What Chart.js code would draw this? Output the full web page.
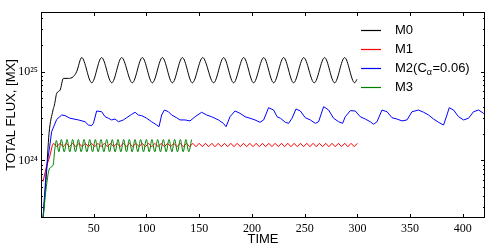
<!DOCTYPE html>
<html>
<head>
<meta charset="utf-8">
<script src="https://cdn.jsdelivr.net/npm/chart.js@4.4.0/dist/chart.umd.min.js"></script>
<style>
  html, body { margin: 0; padding: 0; background: #fff; }
  canvas { display: block; }
</style>
</head>
<body>
<canvas id="grafico" width="498" height="250"></canvas>
<script>
const UNIDAD = 1e24; // los valores de las series van en unidades de 1e24 Mx

const nombres = ['M0', 'M1', 'M2(Cα=0.06)', 'M3'];
const colores = ['#000000', '#ff0000', '#0000ff', '#008000'];

const ticksX = [50, 100, 150, 200, 250, 300, 350, 400];
const ticksYMayores = [1e24, 1e25];
const ticksYMenores = [3e23, 4e23, 5e23, 6e23, 7e23, 8e23, 9e23,
  2e24, 3e24, 4e24, 5e24, 6e24, 7e24, 8e24, 9e24, 2e25, 3e25, 4e25];

// M0
const m0T = [2, 5, 7.6, 11.4, 12.7, 14.9, 18.1, 21.2, 26, 30.7, 33.8,
  38.6, 48.1, 57.5, 67.1, 76.5, 86.6, 96.1, 105.6, 115.1, 124.6, 134.1, 143.5,
  153.3, 163.7, 173.2, 182.6, 192.2, 201.6, 211.2, 220.6, 230.1, 239.5, 249.1,
  259.1, 268.9, 278.4, 287.9, 297.4, 299.6];
const m0V = [0.23, 0.66, 2.0, 3.7, 4.2, 5.7, 6.2, 8.4, 8.4, 8.8, 10.0,
  14.4, 7.5, 14.4, 7.5, 14.4, 7.5, 14.4, 7.5, 14.4, 7.5, 14.4, 7.5,
  14.4, 7.5, 14.4, 7.5, 14.4, 7.5, 14.4, 7.5, 14.4, 7.5, 14.4,
  7.5, 14.4, 7.5, 14.4, 7.5, 8.2];

// M1
const m1T = [2, 5.1, 8.2, 10.8,
  12, 15, 18, 21, 24, 27, 30, 33, 36, 39, 42, 45, 48, 51, 54, 57, 60, 63, 66, 69,
  72, 75, 78, 81, 84, 87, 90, 93, 96, 99, 102, 105, 108, 111, 114, 117, 120, 123,
  126, 129, 132, 135, 138, 141, 144, 147, 150, 153, 156, 159, 162, 165, 168, 171,
  174, 177, 180, 183, 186, 189, 192, 195, 198, 201, 204, 207, 210, 213, 216, 219,
  222, 225, 228, 231, 234, 237, 240, 243, 246, 249, 252, 255, 258, 261, 264, 267,
  270, 273, 276, 279, 282, 285, 288, 291, 294, 297, 300];
const m1V = [0.58, 0.85, 1.10, 1.49,
  1.56, 1.43, 1.56, 1.43, 1.56, 1.43, 1.56, 1.43, 1.56, 1.43, 1.56, 1.43, 1.56, 1.43, 1.56, 1.43, 1.56, 1.43, 1.56, 1.43,
  1.56, 1.43, 1.56, 1.43, 1.56, 1.43, 1.56, 1.43, 1.56, 1.43, 1.56, 1.43, 1.56, 1.43, 1.56, 1.43, 1.56, 1.43,
  1.56, 1.43, 1.56, 1.43, 1.56, 1.43, 1.56, 1.43, 1.56, 1.43, 1.56, 1.43, 1.56, 1.43, 1.56, 1.43,
  1.56, 1.43, 1.56, 1.43, 1.56, 1.43, 1.56, 1.43, 1.56, 1.43, 1.56, 1.43, 1.56, 1.43, 1.56, 1.43,
  1.56, 1.43, 1.56, 1.43, 1.56, 1.43, 1.56, 1.43, 1.56, 1.43, 1.56, 1.43, 1.56, 1.43, 1.56, 1.43,
  1.56, 1.43, 1.56, 1.43, 1.56, 1.43, 1.56, 1.43, 1.56, 1.43, 1.56];

// M2 (C_alpha = 0.06)
const m2T = [2, 5, 8.2, 10.1, 14.9, 19.6, 22.8, 27.6, 35.5, 41.8, 44.9, 48.1, 49.7,
  52.8, 57.5, 60.8, 63.9, 67.0, 70.2, 73.4, 78.1, 81.2, 86.0, 89.2, 92.3, 95.5,
  100.2, 104.9, 109.7, 111.9, 114.4, 117.0, 120.8, 123.9, 128.6, 131.8, 136.6,
  141.3, 146.1, 152.3, 157.1, 161.8, 168.2, 172.9, 175.5, 179.2, 184.0, 188.7,
  193.5, 198.2, 202.9, 207.7, 211.1, 215.8, 220.6, 223.8, 227.0, 231.7, 234.8,
  238.0, 241.8, 245.9, 250.6, 255.4, 260.1, 263.2, 268.0, 272.7, 277.4, 282.2,
  286.0, 288.5, 293.3, 298.0, 302.7, 307.5, 312.2, 315.4, 318.6, 323.3, 328.1,
  332.8, 337.5, 342.3, 347.0, 351.8, 358.0, 362.8, 367.5, 372.2, 377.0, 381.7,
  384.9, 387.1, 391.2, 395.9, 400.7, 405.4, 410.1, 414.9, 419.6, 422];
const m2V = [0.23, 0.78, 1.43, 2.11, 2.9, 3.25, 3.20, 2.99, 2.86, 2.73, 2.51, 2.47, 2.62,
  3.61, 3.54, 3.11, 2.99, 2.86, 2.93, 2.73, 2.86, 3.03, 3.31, 3.49, 3.25, 3.20,
  2.99, 2.73, 2.51, 2.40, 3.25, 3.70, 3.54, 3.25, 3.03, 2.86, 2.86,
  2.79, 3.11, 3.49, 3.25, 3.11, 2.86, 2.62, 2.40, 3.11, 3.61, 3.40,
  3.11, 2.99, 2.86, 2.69, 2.86, 3.93, 3.70, 3.11, 2.99, 2.69, 2.62,
  2.99, 3.80, 3.61, 3.03, 2.86, 2.62, 2.73, 4.04, 3.70, 2.99, 2.73,
  2.62, 3.11, 3.64, 3.61, 3.11, 2.93, 2.73, 2.56, 2.73, 3.70, 3.54,
  3.03, 2.93, 2.79, 2.86, 3.54, 3.70, 3.49, 3.25, 2.93, 2.69, 2.51,
  3.25, 3.93, 3.70, 3.11, 2.86, 2.99, 3.54, 3.70, 3.40, 3.11];

// M3
const m3T = [2, 5.1, 8.2, 11.5, 13, 14.6, 16.9,
  19.3, 22.0, 24.7, 27.3, 30.0, 32.7, 35.4, 38.1, 40.8, 43.5, 46.2, 48.9, 51.5,
  54.2, 56.9, 59.6, 62.3, 65.0, 67.6, 70.3, 73.0, 75.7, 78.4, 81.1, 83.7, 86.4,
  89.1, 91.8, 94.5, 97.2, 99.9, 102.6, 105.2, 107.9, 110.6, 113.3, 116.0, 118.7,
  121.4, 124.1, 126.7, 129.4, 132.1, 134.8, 137.4, 140.1, 142.8];
const m3V = [0.22, 0.51, 0.82, 0.89, 1.31, 1.68, 1.25,
  1.72, 1.25, 1.72, 1.25, 1.72, 1.25, 1.72, 1.25, 1.72, 1.25, 1.72, 1.25, 1.72,
  1.25, 1.72, 1.25, 1.72, 1.25, 1.72, 1.25, 1.72, 1.25, 1.72, 1.25, 1.72, 1.25,
  1.72, 1.25, 1.72, 1.25, 1.72, 1.25, 1.72, 1.25, 1.72, 1.25, 1.72, 1.25,
  1.72, 1.25, 1.72, 1.25, 1.72, 1.25, 1.72, 1.25, 1.72];

function puntos(t, v) {
  return t.map((x, i) => ({ x: x, y: v[i] * UNIDAD }));
}

function serie(i, t, v, suave) {
  return {
    label: nombres[i],
    data: puntos(t, v),
    borderColor: colores[i],
    backgroundColor: colores[i],
    borderWidth: 1,
    pointRadius: 0,
    fill: false,
    cubicInterpolationMode: suave ? 'monotone' : 'default',
    tension: 0,
    order: 4 - i
  };
}

// marcas hacia adentro en los cuatro lados, estilo matplotlib
const marcasPlugin = {
  id: 'marcas',
  afterDatasetsDraw(chart) {
    const { ctx, chartArea: a, scales: { x, y } } = chart;
    ctx.save();
    ctx.strokeStyle = '#000';
    ctx.lineWidth = 1;
    ctx.beginPath();
    x.ticks.forEach((t) => {
      const px = Math.round(x.getPixelForValue(t.value)) + 0.5;
      ctx.moveTo(px, a.bottom); ctx.lineTo(px, a.bottom - 4);
      ctx.moveTo(px, a.top); ctx.lineTo(px, a.top + 4);
    });
    y.ticks.forEach((t) => {
      const py = Math.round(y.getPixelForValue(t.value)) + 0.5;
      const largo = ticksYMayores.includes(t.value) ? 4 : 2;
      ctx.moveTo(a.left, py); ctx.lineTo(a.left + largo, py);
      ctx.moveTo(a.right, py); ctx.lineTo(a.right - largo, py);
    });
    ctx.stroke();
    ctx.strokeRect(Math.round(a.left) + 0.5, Math.round(a.top) + 0.5,
      Math.round(a.right - a.left) - 1, Math.round(a.bottom - a.top) - 1);
    ctx.restore();
  }
};

// leyenda sin marco arriba a la derecha, con subindice para alfa
const leyendaPlugin = {
  id: 'leyenda',
  afterDraw(chart) {
    const ctx = chart.ctx;
    const fuente = '13px "Liberation Sans", Arial, sans-serif';
    const fuenteSub = '9px "Liberation Sans", Arial, sans-serif';
    ctx.save();
    ctx.textBaseline = 'middle';
    nombres.forEach((nombre, i) => {
      const y = 30.5 + i * 19;
      ctx.strokeStyle = colores[i];
      ctx.lineWidth = 1.2;
      ctx.beginPath();
      ctx.moveTo(361, y); ctx.lineTo(381, y);
      ctx.stroke();
      ctx.fillStyle = '#000';
      const partes = nombre.split('α');
      let x = 395;
      ctx.font = fuente;
      ctx.fillText(partes[0], x, y);
      x += ctx.measureText(partes[0]).width;
      if (partes.length > 1) {
        ctx.font = fuenteSub;
        ctx.fillText('α', x, y + 4);
        x += ctx.measureText('α').width + 0.5;
        ctx.font = fuente;
        ctx.fillText(partes[1], x, y);
      }
    });
    ctx.restore();
  }
};

new Chart(document.getElementById('grafico'), {
  type: 'line',
  data: {
    datasets: [
      serie(0, m0T, m0V, true),
      serie(1, m1T, m1V, false),
      serie(2, m2T, m2V, false),
      serie(3, m3T, m3V, true)
    ]
  },
  options: {
    responsive: false,
    devicePixelRatio: 1,
    animation: false,
    layout: { padding: { top: 12, right: 13, left: 0, bottom: 0 } },
    plugins: { legend: { display: false }, tooltip: { enabled: false } },
    scales: {
      x: {
        type: 'linear',
        min: 0,
        max: 421,
        grid: { display: false, drawTicks: false },
        border: { display: false },
        afterBuildTicks: (axis) => { axis.ticks = ticksX.map((v) => ({ value: v })); },
        afterFit: (axis) => { axis.height = 32; },
        ticks: {
          autoSkip: false,
          maxRotation: 0,
          padding: 4,
          color: '#000',
          font: { family: '"Liberation Serif", "DejaVu Serif", serif', size: 12 }
        },
        title: {
          display: true,
          text: 'TIME',
          color: '#000',
          padding: { top: 0, bottom: 3 },
          font: { family: '"Liberation Sans", Arial, sans-serif', size: 13 }
        }
      },
      y: {
        type: 'logarithmic',
        min: 2.25e23,
        max: 4.7e25,
        grid: { display: false, drawTicks: false },
        border: { display: false },
        afterBuildTicks: (axis) => {
          axis.ticks = ticksYMenores.concat(ticksYMayores)
            .sort((a, b) => a - b)
            .map((v) => ({ value: v }));
        },
        afterFit: (axis) => { axis.width = 41; },
        ticks: {
          autoSkip: false,
          padding: 3,
          color: '#000',
          font: { family: '"Liberation Serif", "DejaVu Serif", serif', size: 12 },
          callback: (v) => (v === 1e24 ? '10²⁴' : v === 1e25 ? '10²⁵' : '')
        },
        title: {
          display: true,
          text: 'TOTAL FLUX, [MX]',
          color: '#000',
          padding: { top: 4, bottom: 0 },
          font: { family: '"Liberation Sans", Arial, sans-serif', size: 13 }
        }
      }
    }
  },
  plugins: [marcasPlugin, leyendaPlugin]
});
</script>
</body>
</html>
